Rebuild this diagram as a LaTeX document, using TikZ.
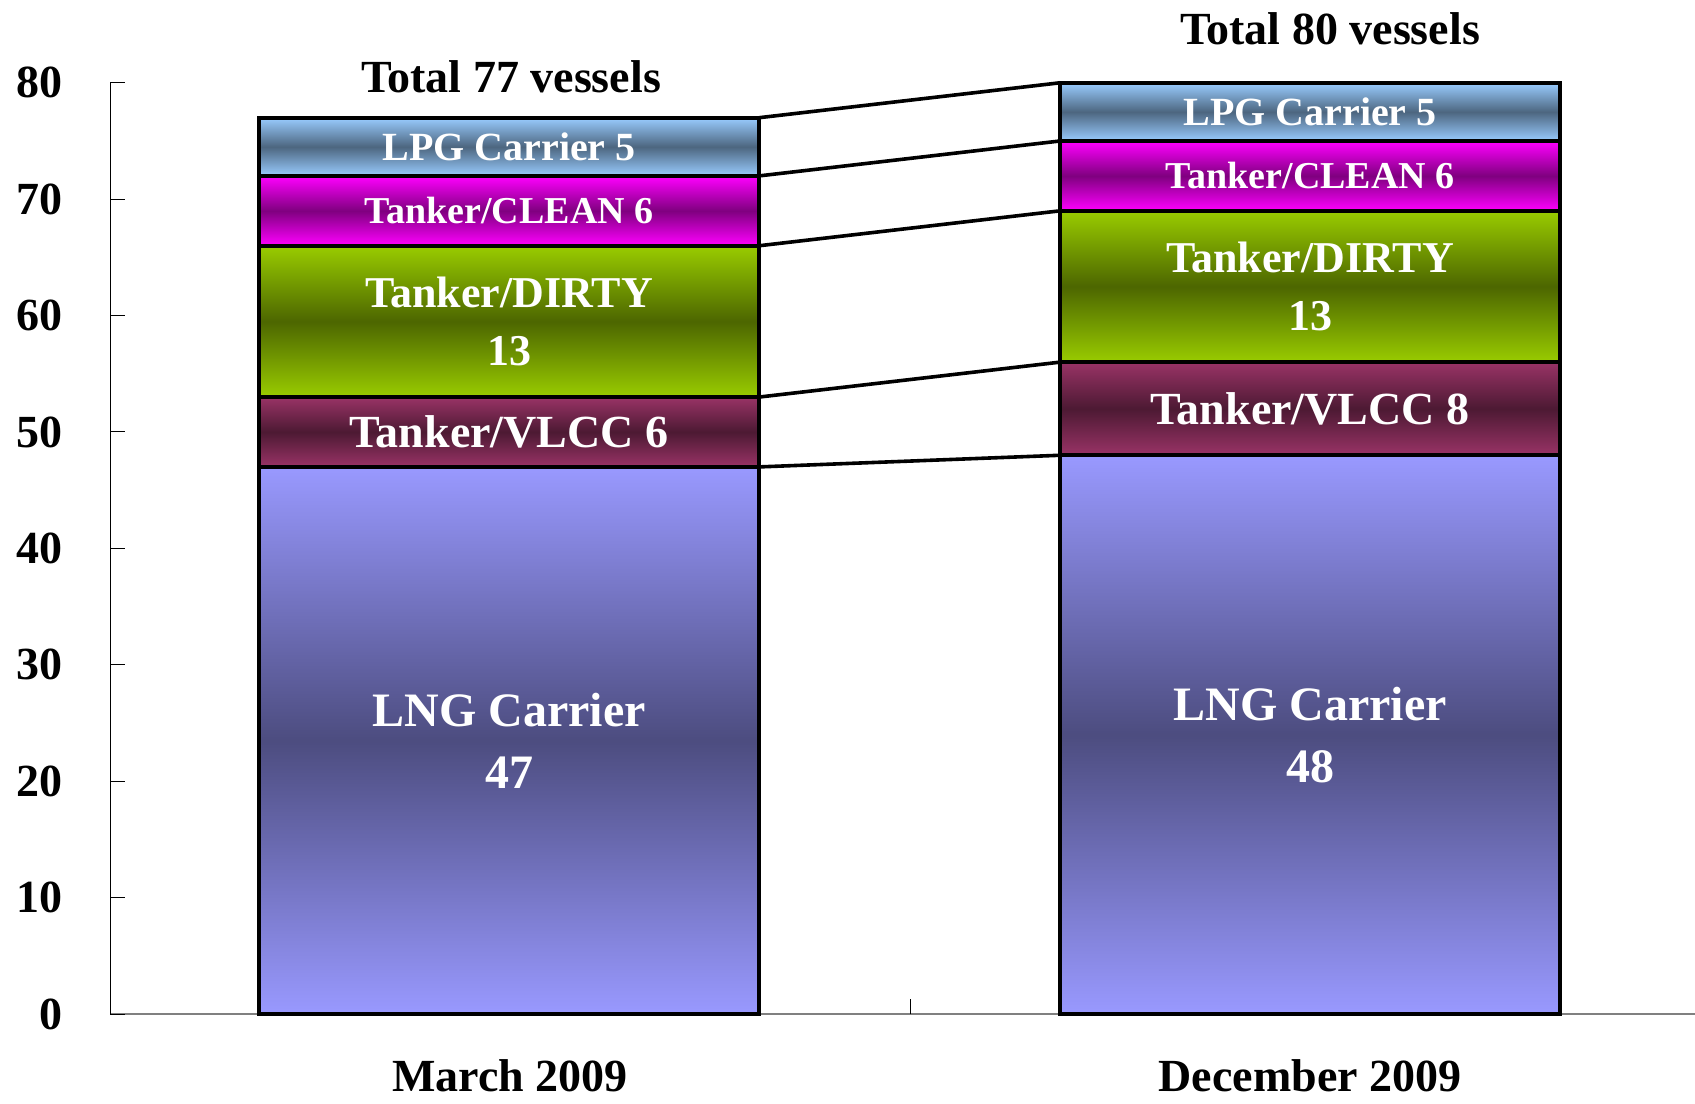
\documentclass[tikz,border=0pt]{standalone}
\usepackage{fontspec}
\setmainfont{Liberation Serif}
\usepackage{tikz}
\usetikzlibrary{positioning}
\definecolor{lngblue}{RGB}{153,153,255}
\definecolor{vlccred}{RGB}{153,51,102}
\definecolor{dirtygreen}{RGB}{153,204,0}
\definecolor{cleanpink}{RGB}{255,0,255}
\definecolor{lpgblue}{RGB}{153,204,255}
\tikzset{
	seg/.style={draw, line width=1.8pt, minimum width=250pt, inner sep=0pt, outer sep=0pt, text=white, align=center},
	band/.style={top color=#1, bottom color=#1, middle color=#1!50!black},
	lng/.style={band=lngblue, font=\fontsize{24}{31}\selectfont\bfseries},
	vlcc/.style={band=vlccred, font=\fontsize{23}{29}\selectfont\bfseries},
	dirty/.style={band=dirtygreen, font=\fontsize{22}{29}\selectfont\bfseries},
	clean/.style={band=cleanpink, font=\fontsize{19}{24}\selectfont\bfseries},
	lpg/.style={band=lpgblue, font=\fontsize{20}{25}\selectfont\bfseries},
	link/.style={line width=1.8pt},
	bigtext/.style={font=\fontsize{23}{28}\selectfont\bfseries, inner sep=0pt}
}

\begin{document}
\begin{tikzpicture}[x=0.5pt, y=0.5pt]
		\useasboundingbox (0,0) rectangle (1695,1103);
		\draw[gray, line width=0.7pt] (110,89) -- (1695,89);
		\draw[line width=0.5pt] (110,89) -- (110,1020);
		\foreach \v in {0,10,...,80} {
			\draw[line width=0.5pt] (110,89+11.64*\v) -- ++(15,0);
			\node[bigtext, anchor=east] (y\v) at (63,89+11.64*\v) {\v};
		}
		\draw[line width=0.5pt] (910,89) -- ++(0,15);

		\node[seg, lng, minimum height=47*5.82pt, anchor=south west] (m1) at (259,89) {LNG Carrier\\47};
		\node[seg, vlcc, minimum height=6*5.82pt, above=0pt of m1] (m2) {Tanker/VLCC 6};
		\node[seg, dirty, minimum height=13*5.82pt, above=0pt of m2] (m3) {Tanker/DIRTY\\13};
		\node[seg, clean, minimum height=6*5.82pt, above=0pt of m3] (m4) {Tanker/CLEAN 6};
		\node[seg, lpg, minimum height=5*5.82pt, above=0pt of m4] (m5) {LPG Carrier 5};

		\node[seg, lng, minimum height=48*5.82pt, anchor=south west] (d1) at (1060,89) {LNG Carrier\\48};
		\node[seg, vlcc, minimum height=8*5.82pt, above=0pt of d1] (d2) {Tanker/VLCC 8};
		\node[seg, dirty, minimum height=13*5.82pt, above=0pt of d2] (d3) {Tanker/DIRTY\\13};
		\node[seg, clean, minimum height=6*5.82pt, above=0pt of d3] (d4) {Tanker/CLEAN 6};
		\node[seg, lpg, minimum height=5*5.82pt, above=0pt of d4] (d5) {LPG Carrier 5};

		\foreach \i in {1,...,5} {
			\draw[link] (m\i.north east) -- (d\i.north west);
		}

		\node[bigtext] (t1) at (511,1026) {Total 77 vessels};
		\node[bigtext] (t2) at (1330,1074) {Total 80 vessels};
		\node[bigtext] (c1) at (510,27) {March 2009};
		\node[bigtext] (c2) at (1310,27) {December 2009};
	\end{tikzpicture}
\end{document}
